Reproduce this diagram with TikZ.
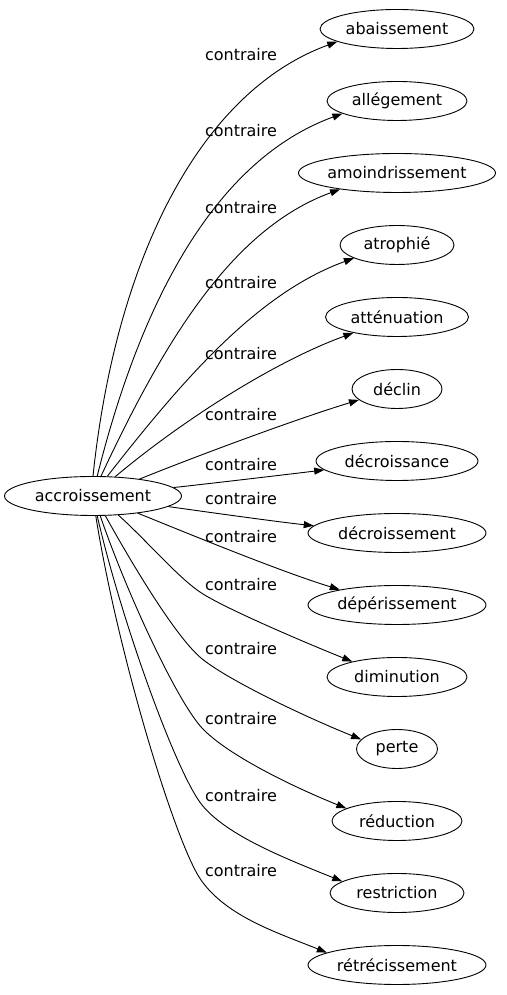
\documentclass[tikz,border=0pt]{standalone}
\usepackage{fontspec}
\setmainfont{DejaVu Sans}
\usetikzlibrary{arrows.meta,shapes.geometric}
\begin{document}
\begin{tikzpicture}[x=1pt,y=1pt,
  every node/.style={font=\fontsize{16}{19}\selectfont},
  word/.style={draw, ellipse, inner sep=0pt, minimum height=39pt, line width=0.9pt},
  lbl/.style={inner sep=0pt},
  edge/.style={line width=0.9pt, -{Triangle[length=10pt,width=7pt]}}]
\useasboundingbox (0,0) rectangle (506,995);
\fill[white] (0,0) rectangle (506,995);
% nodes
\node[word, minimum width=177pt] (acc) at (93,499) {accroissement};
\node[word, minimum width=154pt] (t0) at (397,966) {abaissement};
\node[word, minimum width=140pt] (t1) at (397,894) {allégement};
\node[word, minimum width=196pt] (t2) at (397,822) {amoindrissement};
\node[word, minimum width=114pt] (t3) at (397,750) {atrophié};
\node[word, minimum width=143pt] (t4) at (397,678) {atténuation};
\node[word, minimum width=90pt] (t5) at (397,606) {déclin};
\node[word, minimum width=162pt] (t6) at (397,534) {décroissance};
\node[word, minimum width=178pt] (t7) at (397,462) {décroissement};
\node[word, minimum width=178pt] (t8) at (397,390) {dépérissement};
\node[word, minimum width=140pt] (t9) at (397,318) {diminution};
\node[word, minimum width=81pt] (t10) at (397,246) {perte};
\node[word, minimum width=130pt] (t11) at (397,174) {réduction};
\node[word, minimum width=134pt] (t12) at (397,102) {restriction};
\node[word, minimum width=178pt] (t13) at (397,30) {rétrécissement};
% labels
\node[lbl] (l0) at (241,940) {contraire};
\node[lbl] (l1) at (241,864) {contraire};
\node[lbl] (l2) at (241,787) {contraire};
\node[lbl] (l3) at (241,712) {contraire};
\node[lbl] (l4) at (241,641) {contraire};
\node[lbl] (l5) at (241,580) {contraire};
\node[lbl] (l6) at (241,530) {contraire};
\node[lbl] (l7) at (241,496) {contraire};
\node[lbl] (l8) at (241,458) {contraire};
\node[lbl] (l9) at (241,410) {contraire};
\node[lbl] (l10) at (241,346) {contraire};
\node[lbl] (l11) at (241,276) {contraire};
\node[lbl] (l12) at (241,199) {contraire};
\node[lbl] (l13) at (241,124) {contraire};
% bend points of the lower edges
\coordinate (w9) at (203,401);
\coordinate (w10) at (201,337);
\coordinate (w11) at (202,267);
\coordinate (w12) at (202,190);
\coordinate (w13) at (201,115);
% edges
\draw[edge] (acc.90) .. controls +(84:219) and +(200:146) .. (t0.192);
\draw[edge] (acc.78) .. controls +(76:187) and +(200:132) .. (t1.193);
\draw[edge] (acc.68) .. controls +(65:151) and +(200:114) .. (t2.196);
\draw[edge] (acc.54) .. controls +(52:122) and +(200:103) .. (t3.197);
\draw[edge] (acc.41) .. controls +(40:86) and +(200:85) .. (t4.200);
\draw[edge] (acc.20) .. controls +(22:57) and +(197:69) .. (t5.196);
\draw[edge] (acc.6) .. controls +(6:23) and +(187:40) .. (t6.187);
\draw[edge] (acc.-8) .. controls +(-8:22) and +(174:38) .. (t7.175);
\draw[edge] (acc.-21) .. controls +(-22:52) and +(163:63) .. (t8.165);
\draw[edge] (acc.-37) .. controls +(-42:40) and +(148:28) .. (w9)
  .. controls +(-32:28) and +(158:60) .. (t9.161);
\draw[edge] (acc.-58) .. controls +(-61:60) and +(140:32) .. (w10)
  .. controls +(-40:32) and +(158:66) .. (t10.165);
\draw[edge] (acc.-70) .. controls +(-71:84) and +(133:36) .. (w11)
  .. controls +(-47:36) and +(158:60) .. (t11.166);
\draw[edge] (acc.-78) .. controls +(-77:110) and +(129:40) .. (w12)
  .. controls +(-51:40) and +(158:58) .. (t12.168);
\draw[edge] (acc.-82) .. controls +(-81:138) and +(125:45) .. (w13)
  .. controls +(-55:45) and +(158:52) .. (t13.170);
\end{tikzpicture}
\end{document}
